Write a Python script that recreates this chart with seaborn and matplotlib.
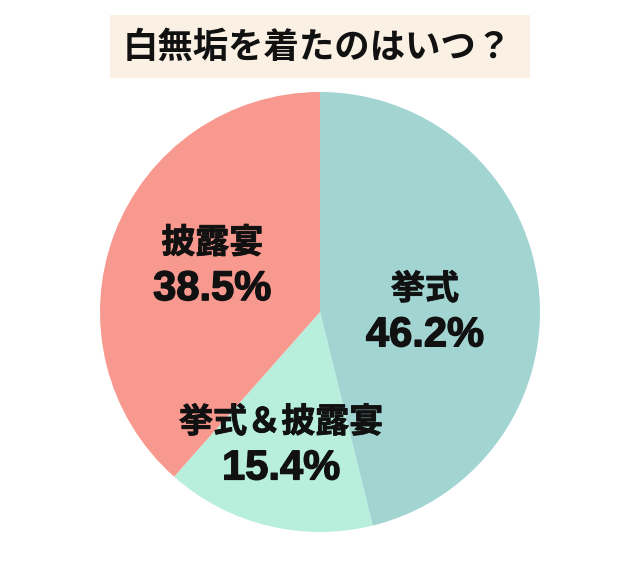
import matplotlib
matplotlib.use("Agg")
import matplotlib.pyplot as plt
import matplotlib.patheffects as pe
from matplotlib.patches import Rectangle
import seaborn as sns

sns.set_theme(style="white")
plt.rcParams['font.family'] = ['Noto Sans CJK JP', 'DejaVu Sans']

# data
labels = ["挙式", "挙式＆披露宴", "披露宴"]
values = [46.2, 15.4, 38.5]
colors = ["#a2d5d2", "#b8efdc", "#f8998f"]
title = "白無垢を着たのはいつ？"

# label placement inside the pie (pie units, radius = 1)
label_xy = [(0.477, 0.0), (-0.177, -0.605), (-0.49, 0.21)]

fig = plt.figure(figsize=(6.4, 5.8), dpi=100)
fig.patch.set_facecolor("white")

# pie axes: centre (320, 312) px, radius 220 px
ax = fig.add_axes([100 / 640, (580 - 532) / 580, 440 / 640, 440 / 580])
wedges, _ = ax.pie(values, colors=colors, startangle=90, counterclock=False,
                   radius=1.0, wedgeprops=dict(linewidth=0))
ax.set_xlim(-1, 1)
ax.set_ylim(-1, 1)
ax.set_aspect("equal")
ax.axis("off")

# thin strokes to get the heavy look of the original labels
heavy_jp = [pe.withStroke(linewidth=0.6, foreground="#111111")]
heavy_num = [pe.withStroke(linewidth=1.0, foreground="#111111")]

for (x, y), lab, val in zip(label_xy, labels, values):
    ax.text(x, y + 0.106, lab, ha="center", va="center", fontsize=24.5,
            fontweight="bold", color="#111111", path_effects=heavy_jp)
    ax.text(x, y - 0.106, f"{val:.1f}%", ha="center", va="center", fontsize=30,
            fontweight="bold", color="#111111", path_effects=heavy_num,
            family=['Liberation Sans', 'Noto Sans CJK JP'])

# title box: x 110-530, y 15-78 px
fig.patches.append(Rectangle((110 / 640, 1 - 78 / 580), 420 / 640, 63 / 580,
                             transform=fig.transFigure, facecolor="#fbf0e4",
                             edgecolor="none", zorder=0))
fig.text(317 / 640, 1 - 47 / 580, title, ha="center", va="center", fontsize=25.5,
         fontweight="bold", color="#111111")

fig.savefig("out.png", dpi=100, facecolor="white")
